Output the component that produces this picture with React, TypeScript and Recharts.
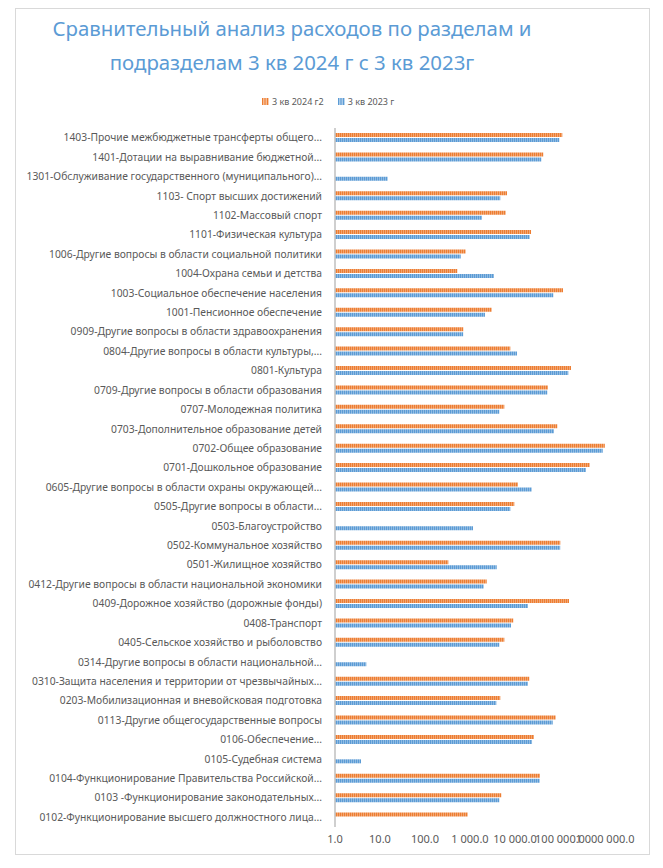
import React from 'react';
import { BarChart, Bar, XAxis, YAxis } from 'recharts';

const categories = [
  '1403-Прочие межбюджетные трансферты общего...',
  '1401-Дотации на выравнивание бюджетной...',
  '1301-Обслуживание государственного (муниципального)...',
  '1103- Спорт высших достижений',
  '1102-Массовый спорт',
  '1101-Физическая культура',
  '1006-Другие вопросы в области социальной политики',
  '1004-Охрана семьи и детства',
  '1003-Социальное обеспечение населения',
  '1001-Пенсионное обеспечение',
  '0909-Другие вопросы в области здравоохранения',
  '0804-Другие вопросы в области культуры,...',
  '0801-Культура',
  '0709-Другие вопросы в области образования',
  '0707-Молодежная политика',
  '0703-Дополнительное образование детей',
  '0702-Общее образование',
  '0701-Дошкольное образование',
  '0605-Другие вопросы в области охраны окружающей...',
  '0505-Другие вопросы в области...',
  '0503-Благоустройство',
  '0502-Коммунальное хозяйство',
  '0501-Жилищное хозяйство',
  '0412-Другие вопросы в области национальной экономики',
  '0409-Дорожное хозяйство (дорожные фонды)',
  '0408-Транспорт',
  '0405-Сельское хозяйство и рыболовство',
  '0314-Другие вопросы в области национальной...',
  '0310-Защита населения и территории от чрезвычайных...',
  '0203-Мобилизационная и вневойсковая подготовка',
  '0113-Другие общегосударственные вопросы',
  '0106-Обеспечение...',
  '0105-Судебная система',
  '0104-Функционирование Правительства Российской...',
  '0103 -Функционирование законодательных...',
  '0102-Функционирование высшего должностного лица...',
];

const q3y2024: (number | null)[] = [
  112500, 42500, null, 6640, 6210, 22700, 800, 522, 116600, 3035,
  710, 7870, 175500, 54100, 5790, 87100, 990000, 457000, 11660, 9650,
  null, 101500, 330, 2350, 158500, 9160, 5800, null, 20800, 4710,
  80200, 26400, null, 35900, 4960, 889,
];

const q3y2023: (number | null)[] = [
  96500, 38400, 14.8, 4710, 1850, 21200, 621, 3415, 71000, 2150,
  705, 11070, 152900, 52200, 4480, 73600, 889000, 378300, 23500, 7870,
  1166, 101000, 3920, 2015, 19450, 8150, 4480, 4.96, 19450, 3840,
  68800, 23900, 3.78, 35400, 4480, null,
];

const xTicks = [1, 10, 100, 1000, 10000, 100000, 1000000];

const seriesNames = ['3 кв 2024 г2', '3 кв 2023 г'];

const data = categories.map((name, i) => ({
  name,
  a: q3y2024[i],
  b: q3y2023[i],
}));

const fmt = (v: number) => {
  const s = Math.round(v).toString().replace(/\B(?=(\d{3})+(?!\d))/g, ' ');
  return s + '.0';
};

const FONT = '"Noto Sans", sans-serif';

const LegendIcon = ({ color, light }: { color: string; light: string }) => (
  <svg width={7} height={7} style={{ display: 'block' }}>
    <rect width={7} height={7} fill={light} />
    <rect x={0} width={1.2} height={7} fill={color} />
    <rect x={2.4} width={1.2} height={7} fill={color} />
    <rect x={4.8} width={1.2} height={7} fill={color} />
  </svg>
);

const YTick = (props: any) => {
  const { x, y, payload } = props;
  return (
    <text
      x={x}
      y={y}
      dy="0.35em"
      textAnchor="end"
      fontSize={10.3}
      fill="#595959"
      fontFamily={FONT}
    >
      {payload.value}
    </text>
  );
};

export default function App() {
  return (
    <div
      style={{
        position: 'relative',
        width: 633,
        height: 845,
        marginLeft: 7,
        border: '1px solid #d9d9d9',
        fontFamily: FONT,
        background: '#fff',
      }}
    >
      <div
        style={{
          position: 'absolute',
          left: 0,
          width: 552,
          top: 2,
          textAlign: 'center',
          color: '#5B9BD5',
          fontSize: 20.4,
          lineHeight: '34px',
        }}
      >
        Сравнительный анализ расходов по разделам и
        <br />
        подразделам 3 кв 2024 г с 3 кв 2023г
      </div>
      <div
        style={{
          position: 'absolute',
          left: 246,
          top: 86,
          display: 'flex',
          alignItems: 'center',
          fontSize: 9,
          color: '#595959',
        }}
      >
        <LegendIcon color="#ED7D31" light="#F8CBAD" />
        <span style={{ marginLeft: 3, marginRight: 14 }}>{seriesNames[0]}</span>
        <LegendIcon color="#5B9BD5" light="#BDD7EE" />
        <span style={{ marginLeft: 3 }}>{seriesNames[1]}</span>
      </div>
      <BarChart
        width={633}
        height={845}
        data={data}
        layout="vertical"
        margin={{ top: 119, right: 44, bottom: 0, left: 0 }}
        barSize={4}
        barGap={1}
      >
        <defs>
          <pattern id="patOrange" patternUnits="userSpaceOnUse" width={2} height={4}>
            <rect width={2} height={4} fill="#F4B183" />
            <rect width={1.2} height={4} fill="#ED7D31" />
          </pattern>
          <pattern id="patBlue" patternUnits="userSpaceOnUse" width={2} height={4}>
            <rect width={2} height={4} fill="#9DC3E6" />
            <rect width={1.2} height={4} fill="#5B9BD5" />
          </pattern>
        </defs>
        <XAxis
          type="number"
          scale="log"
          domain={[1, 1000000]}
          allowDataOverflow
          ticks={xTicks}
          tickFormatter={fmt}
          axisLine={false}
          tickLine={false}
          height={27}
          tick={{ fontSize: 11, fill: '#595959', fontFamily: FONT }}
          interval={0}
        />
        <YAxis
          type="category"
          dataKey="name"
          width={319}
          interval={0}
          tickLine={false}
          tickSize={11}
          tickMargin={2}
          axisLine={{ stroke: '#BFBFBF', strokeWidth: 1.5 }}
          tick={<YTick />}
        />
        <Bar dataKey="a" name={seriesNames[0]} fill="url(#patOrange)" isAnimationActive={false} />
        <Bar dataKey="b" name={seriesNames[1]} fill="url(#patBlue)" isAnimationActive={false} />
      </BarChart>
    </div>
  );
}
